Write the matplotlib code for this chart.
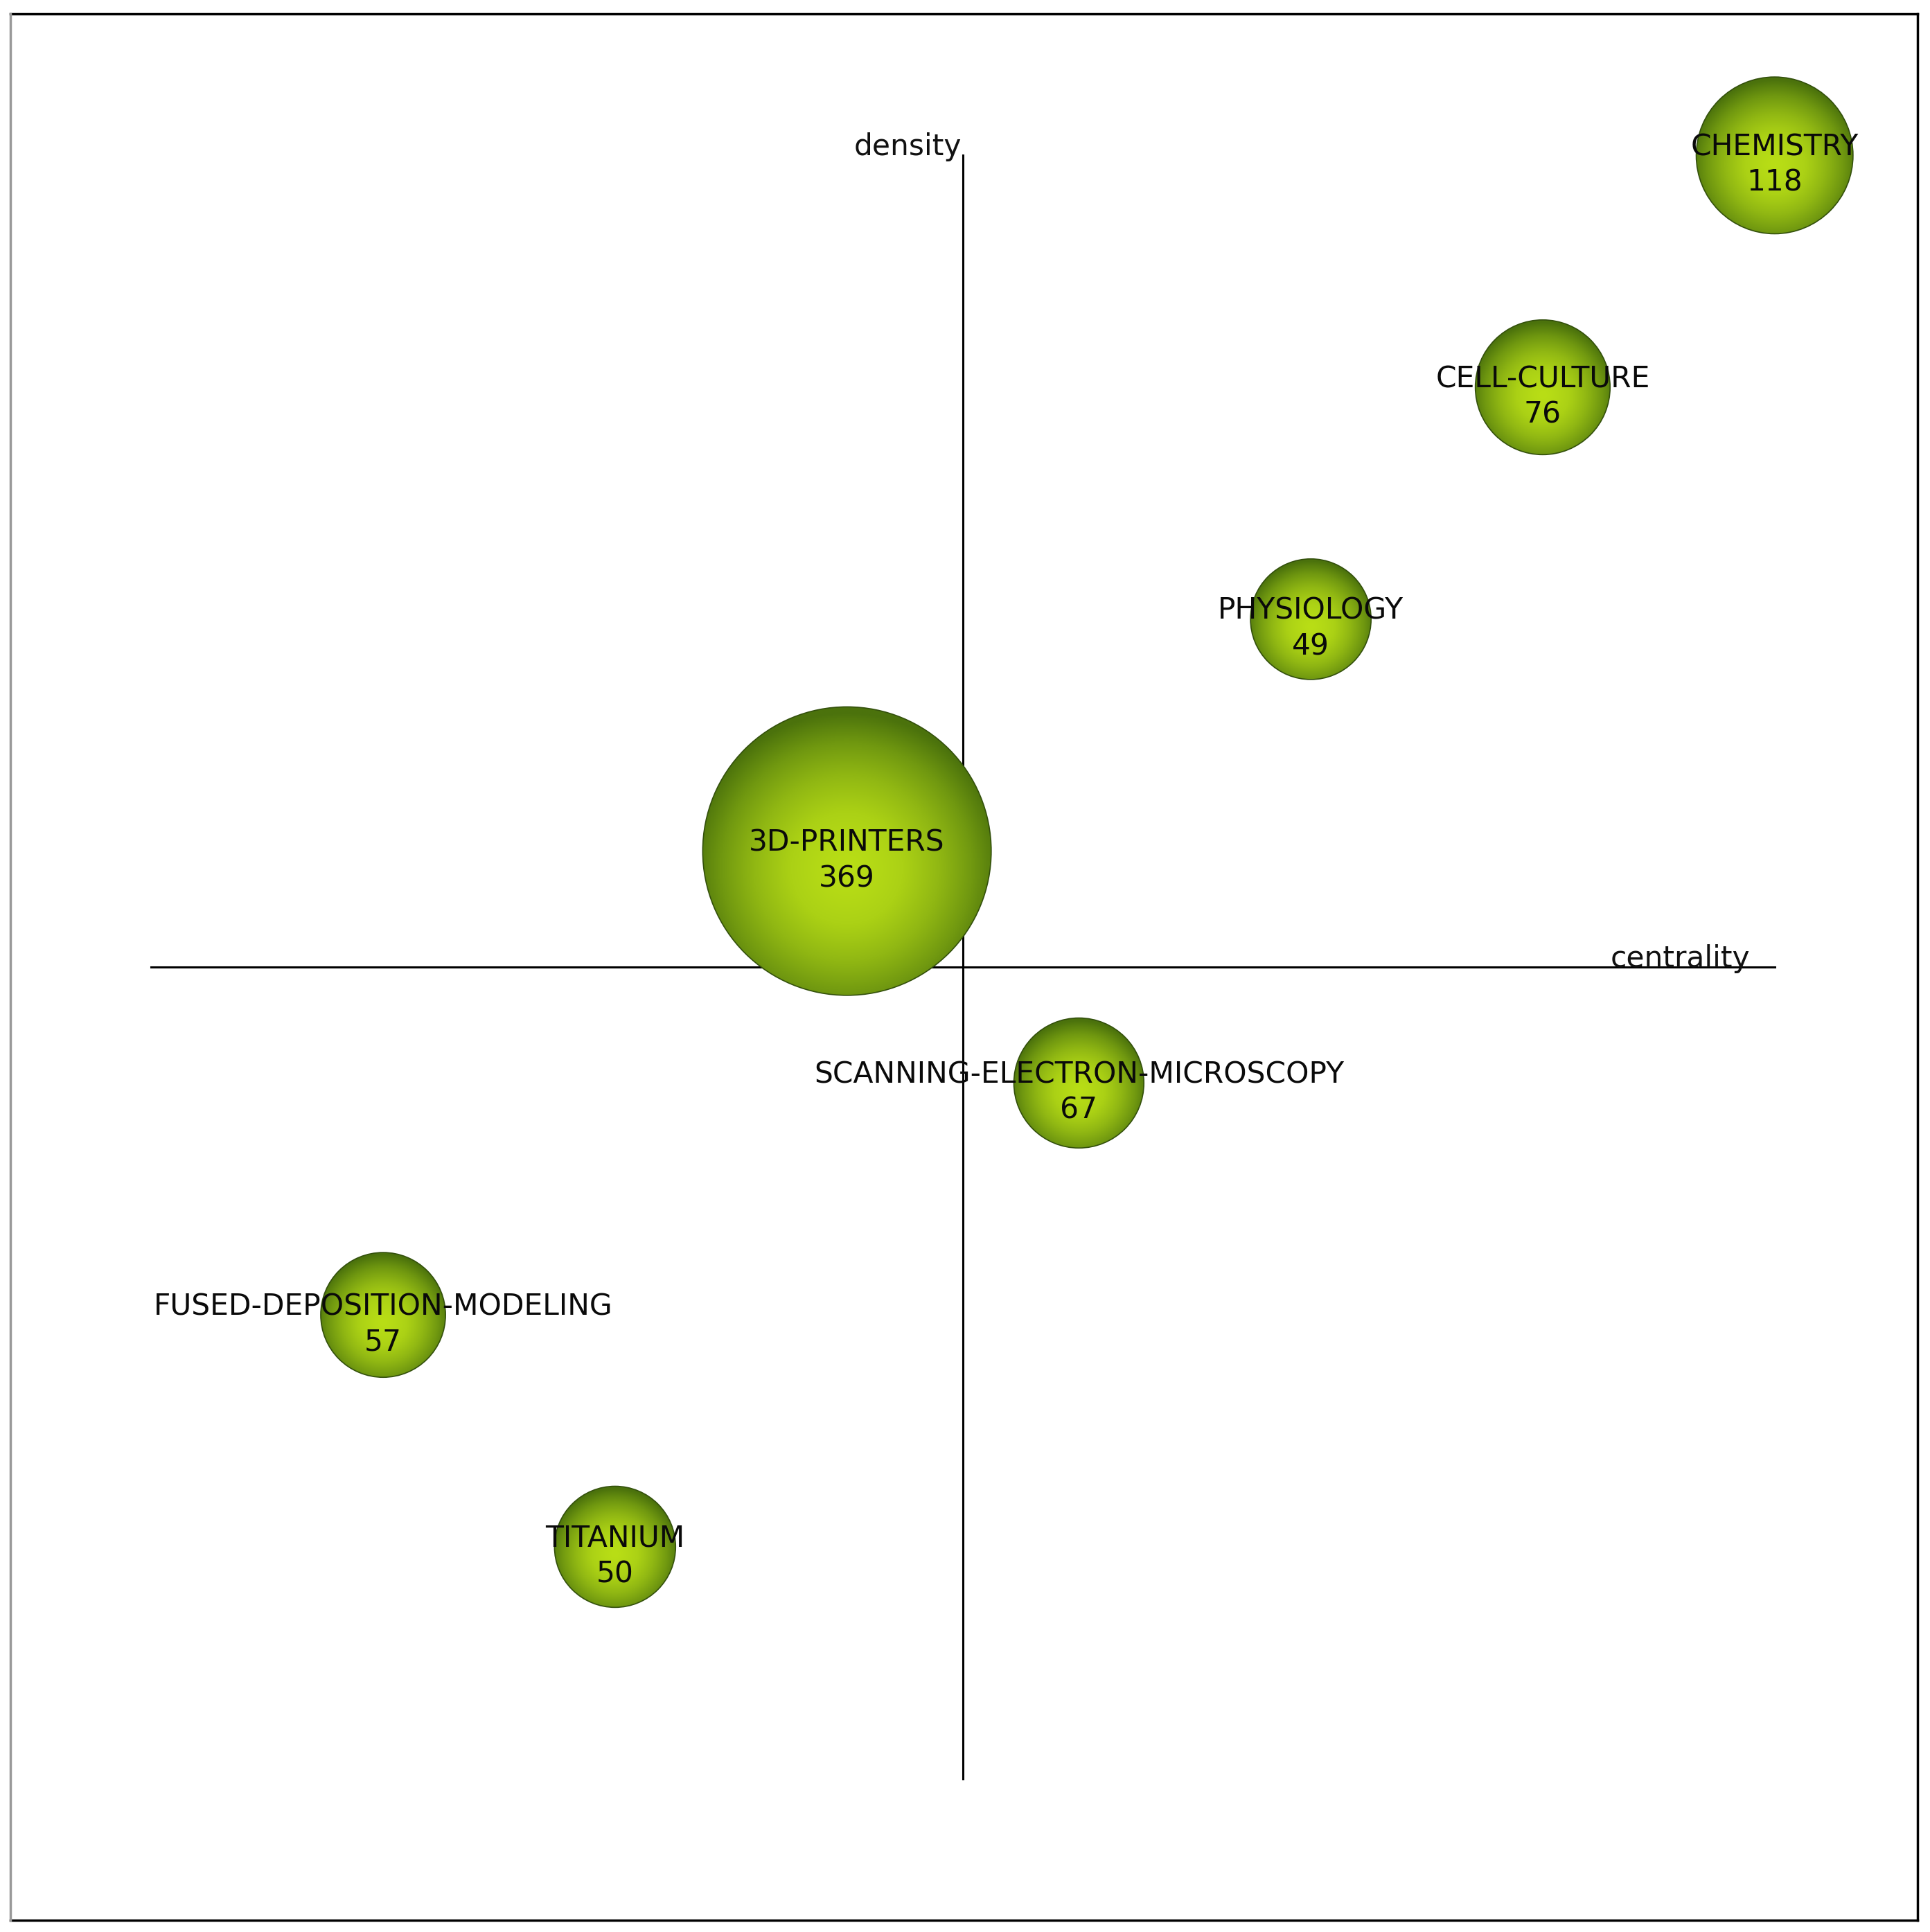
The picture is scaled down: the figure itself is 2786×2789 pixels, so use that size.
import numpy as np
import matplotlib
matplotlib.use('Agg')
from matplotlib import pyplot
from matplotlib.patches import Circle
from matplotlib.colors import LinearSegmentedColormap
from matplotlib.lines import Line2D

#
# data
#

themes = ['CHEMISTRY', 'CELL-CULTURE', 'PHYSIOLOGY', '3D-PRINTERS',
          'SCANNING-ELECTRON-MICROSCOPY', 'FUSED-DEPOSITION-MODELING', 'TITANIUM']
counts = [118, 76, 49, 369, 67, 57, 50]
centrality = [7, 6, 5, 3, 4, 1, 2]
density = [7, 6, 5, 4, 3, 2, 1]

#
# figure
#

W, H = 2786, 2789
fig = pyplot.figure(figsize=(W / 100, H / 100), dpi=100)
ax = fig.add_axes([0, 0, 1, 1])
ax.set_axis_off()

xlim = (-0.652, 7.670)
ylim = (-0.661, 7.670)

# strategic diagram axes
ax.plot([0, 7], [3.5, 3.5], color='black', lw=2.2, zorder=1)
ax.plot([3.5, 3.5], [0, 7], color='black', lw=2.2, zorder=1)

cmap = LinearSegmentedColormap.from_list(
    'ball', ['#b9de16', '#abd115', '#90b713', '#709810', '#4b720c'])

# bubble radius scales linearly with document count
rmin, rmax = 0.26, 0.622
cmin, cmax = min(counts), max(counts)

# radial shading, brightest spot a little below the centre
g = np.linspace(-1, 1, 300)
gx, gy = np.meshgrid(g, g)
grad = np.clip(np.sqrt(gx ** 2 + (gy - 0.12) ** 2) / 1.08, 0, 1) ** 1.35

for name, n, cx, cy in zip(themes, counts, centrality, density):
    r = rmin + (rmax - rmin) * (n - cmin) / (cmax - cmin)
    im = ax.imshow(grad, cmap=cmap, vmin=0, vmax=1, origin='upper',
                   extent=[cx - r, cx + r, cy - r, cy + r],
                   aspect='auto', interpolation='bilinear', zorder=2)
    circ = Circle((cx, cy), r, facecolor='none', edgecolor='#33500c',
                  lw=1.2, zorder=3)
    ax.add_patch(circ)
    im.set_clip_path(circ)

    ax.annotate(name, (cx, cy), xytext=(0, 0), textcoords='offset points',
                ha='center', va='baseline', fontsize=30.5, color='#0a0a0a',
                zorder=5)
    ax.annotate(str(n), (cx, cy), xytext=(0, -37), textcoords='offset points',
                ha='center', va='baseline', fontsize=30.5, color='#0a0a0a',
                zorder=5)

ax.text(3.495, 7.0, 'density', ha='right', va='baseline', fontsize=30.5,
        color='#111111')
ax.text(6.895, 3.5, 'centrality', ha='right', va='baseline', fontsize=30.5,
        color='#111111')

ax.set_xlim(*xlim)
ax.set_ylim(*ylim)

# outer frame
x0, x1 = 15 / W, 2768 / W
y0, y1 = 1 - 2772 / H, 1 - 20 / H
for xs, ys, c in [([x0, x1], [y1, y1], 'black'),
                  ([x1, x1], [y0, y1], 'black'),
                  ([x0, x1], [y0, y0], 'black'),
                  ([x0, x0], [y0, y1], '#999999')]:
    fig.add_artist(Line2D(xs, ys, color=c, lw=2.5, transform=fig.transFigure))

fig.savefig('out.png', dpi=100)
